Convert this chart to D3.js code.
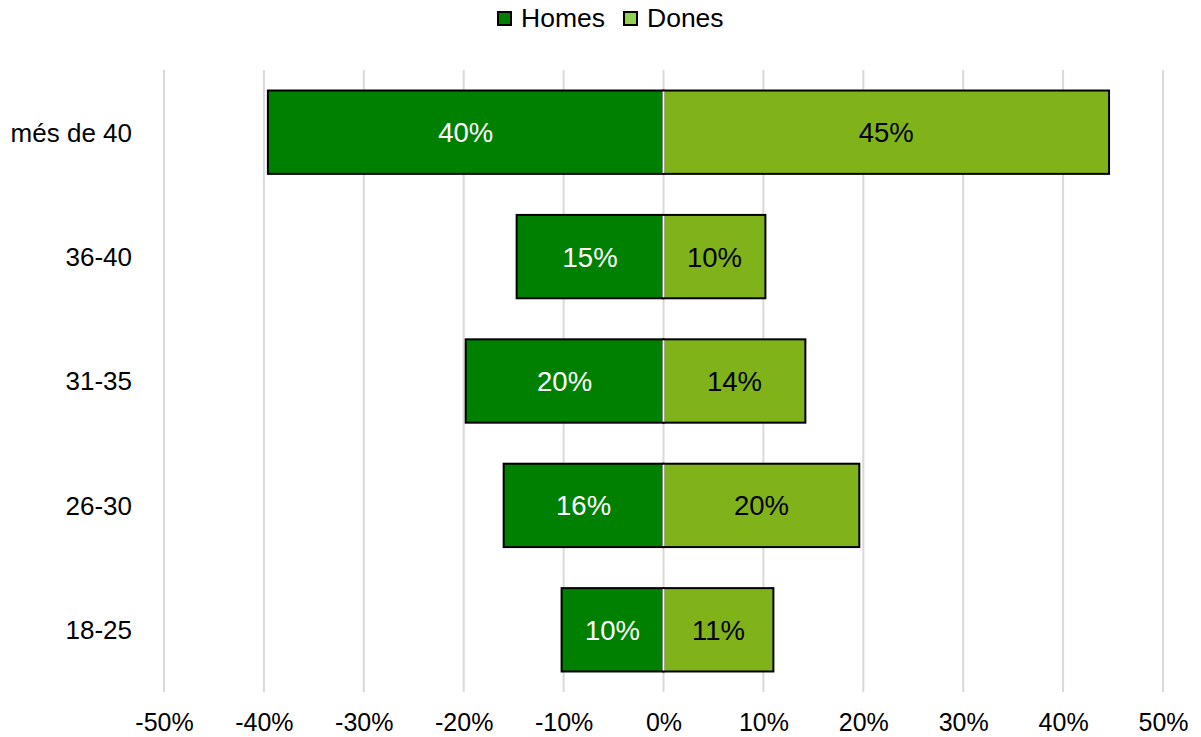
<!DOCTYPE html>
<html><head><meta charset="utf-8">
<script src="https://cdn.jsdelivr.net/npm/d3@7"></script>
<style>body{margin:0;background:#fff}svg{display:block;font-family:"Liberation Sans",Arial,sans-serif}</style>
</head><body><svg id="c" width="1201" height="737"></svg>
<script>
const categories = ["més de 40","36-40","31-35","26-30","18-25"];
const homes = [0.396, 0.147, 0.198, 0.160, 0.102];
const dones = [0.446, 0.102, 0.142, 0.196, 0.110];
const homesLabels = ["40%","15%","20%","16%","10%"];
const donesLabels = ["45%","10%","14%","20%","11%"];
const ticks = [-0.5,-0.4,-0.3,-0.2,-0.1,0,0.1,0.2,0.3,0.4,0.5];
const seriesNames = ["Homes","Dones"];

const svg = d3.select("#c");
const x = d3.scaleLinear().domain([-0.5,0.5]).range([164,1163]);
const y = d3.scaleBand().domain(categories).range([70,692]).paddingInner(0.33).paddingOuter(0.165);

// gridlines
svg.append("g").selectAll("line").data(ticks).join("line")
  .attr("x1",d=>x(d)).attr("x2",d=>x(d)).attr("y1",70).attr("y2",692)
  .attr("stroke","#d9d9d9").attr("stroke-width",2);

// bars
const rows = categories.map((c,i)=>({c,h:homes[i],d:dones[i],hl:homesLabels[i],dl:donesLabels[i]}));
const g = svg.append("g");
g.selectAll("rect.h").data(rows).join("rect").attr("class","h")
  .attr("x",d=>x(-d.h)).attr("width",d=>x(0)-x(-d.h))
  .attr("y",d=>y(d.c)).attr("height",y.bandwidth())
  .attr("fill","#008000").attr("stroke","#000").attr("stroke-width",2);
g.selectAll("rect.d").data(rows).join("rect").attr("class","d")
  .attr("x",x(0)).attr("width",d=>x(d.d)-x(0))
  .attr("y",d=>y(d.c)).attr("height",y.bandwidth())
  .attr("fill","#80b31a").attr("stroke","#000").attr("stroke-width",2);
g.selectAll("line.z").data(rows).join("line").attr("class","z")
  .attr("x1",x(0)).attr("x2",x(0)).attr("y1",d=>y(d.c)+1).attr("y2",d=>y(d.c)+y.bandwidth()-1)
  .attr("stroke","#fff").attr("stroke-width",2);

// value labels
g.selectAll("text.hl").data(rows).join("text").attr("class","hl")
  .attr("x",d=>(x(-d.h)+x(0))/2).attr("y",d=>y(d.c)+y.bandwidth()/2)
  .attr("dy","0.36em").attr("text-anchor","middle").attr("fill","#fff")
  .attr("font-size",27.5).text(d=>d.hl);
g.selectAll("text.dl").data(rows).join("text").attr("class","dl")
  .attr("x",d=>(x(d.d)+x(0))/2).attr("y",d=>y(d.c)+y.bandwidth()/2)
  .attr("dy","0.36em").attr("text-anchor","middle").attr("fill","#000")
  .attr("font-size",27.5).text(d=>d.dl);

// category axis
svg.append("g").selectAll("text").data(categories).join("text")
  .attr("x",132).attr("y",d=>y(d)+y.bandwidth()/2).attr("dy","0.36em")
  .attr("text-anchor","end").attr("font-size",26).attr("fill","#000").text(d=>d);

// x axis
const xa = d3.axisBottom(x).tickValues(ticks).tickFormat(d3.format(".0%")).tickSize(0).tickPadding(0);
const ax = svg.append("g").attr("transform","translate(0,731)").call(xa);
ax.select(".domain").remove();
ax.selectAll("text").attr("font-size",25).attr("fill","#000").attr("dy",0).attr("y",0)
  .attr("font-family","Liberation Sans, Arial, sans-serif")
  .text(d=>d3.format(".0%")(d).replace("−","-"));

// legend
const legColors = ["#008000","#92d050"];
const leg = svg.append("g");
const lx = [498,624];
seriesNames.forEach((s,i)=>{
  leg.append("rect").attr("x",lx[i]).attr("y",12).attr("width",13).attr("height",13)
    .attr("fill",legColors[i]).attr("stroke","#000").attr("stroke-width",2);
  leg.append("text").attr("x",lx[i]+23).attr("y",27)
    .attr("font-size",26.5).attr("fill","#000").text(s);
});
</script></body></html>
